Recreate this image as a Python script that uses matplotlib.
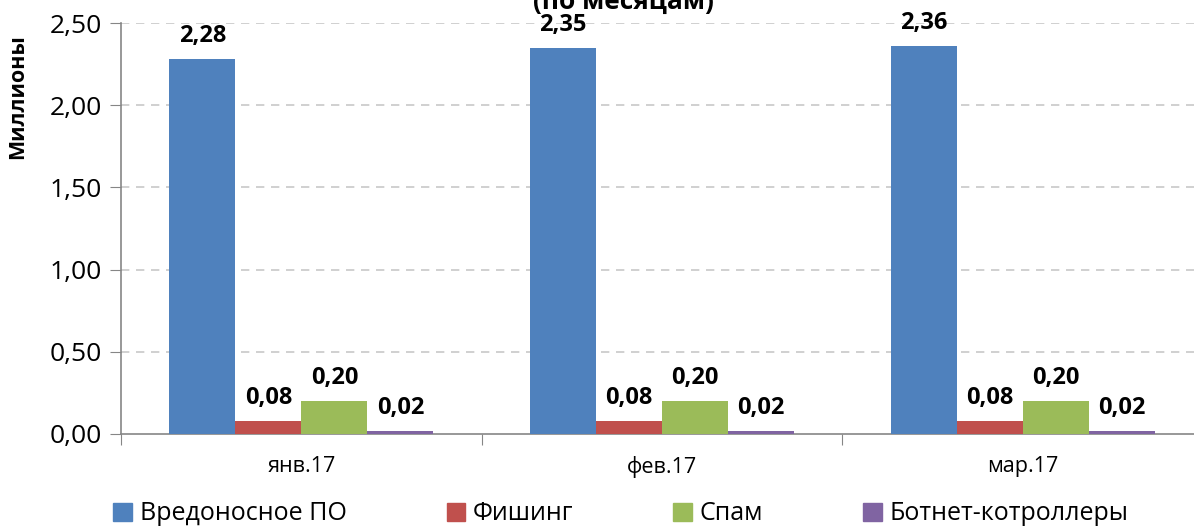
import numpy as np
import matplotlib
matplotlib.use('Agg')
import matplotlib.pyplot as plt
from matplotlib.patches import Patch

MONTHS = ["янв.17", "фев.17", "мар.17"]
SERIES = ["Вредоносное ПО", "Фишинг", "Спам", "Ботнет-котроллеры"]
MALWARE  = [2.28, 2.35, 2.36]
PHISHING = [0.08, 0.08, 0.08]
SPAM     = [0.20, 0.20, 0.20]
BOTNET   = [0.02, 0.02, 0.02]
COLORS = ["#4F81BD", "#C0504D", "#9BBB59", "#8064A2"]

plt.rcParams['font.family'] = ['Open Sans', 'DejaVu Sans']

W, H = 1194, 530
fig = plt.figure(figsize=(W / 100, H / 100), dpi=100)
ax = fig.add_axes([121 / W, (H - 434) / H, (1203 - 121) / W, (434 - 23) / H])

x = np.arange(len(MONTHS))
bw = 0.183
data = [MALWARE, PHISHING, SPAM, BOTNET]
for i, (vals, col) in enumerate(zip(data, COLORS)):
    pos = x + (i - 1.5) * bw
    bars = ax.bar(pos, vals, width=bw, color=col, zorder=3)
    for b, v in zip(bars, vals):
        ax.annotate(f"{v:.2f}".replace(".", ","),
                    (b.get_x() + b.get_width() / 2, v),
                    xytext=(0, 8), textcoords="offset points",
                    ha="center", va="bottom", fontsize=17, fontweight="bold")

ax.set_xlim(-0.5, 2.5)
ax.set_ylim(0, 2.5)
ax.set_yticks(np.arange(0, 2.51, 0.5))
ax.set_yticklabels([f"{t:.2f}".replace(".", ",") for t in np.arange(0, 2.51, 0.5)],
                   fontsize=19)
for t in np.arange(0.5, 2.51, 0.5):
    ax.axhline(t, color="#c8c8c8", lw=1.2, ls=(0, (5, 4)), zorder=1)

# group separators as ticks, labels in the middle
ax.set_xticks([-0.5, 0.5, 1.5, 2.5])
ax.set_xticklabels([])
ax.set_xticks(x, minor=True)
ax.set_xticklabels(MONTHS, minor=True, fontsize=15.5)
ax.tick_params(axis="x", which="major", length=8, color="#868686", direction="out")
ax.tick_params(axis="x", which="minor", length=0, pad=16)
ax.tick_params(axis="y", length=8, color="#868686", pad=6)

for s in ["top", "right"]:
    ax.spines[s].set_visible(False)
for s in ["left", "bottom"]:
    ax.spines[s].set_color("#868686")
    ax.spines[s].set_linewidth(1.2)

fig.text(18 / W, 1 - 97 / H, "Миллионы", rotation=90, ha="center", va="center",
         fontsize=15.5, fontweight="bold")
fig.text(623 / W, 1 + 12 / H, "(по месяцам)", ha="center", va="top",
         fontsize=19, fontweight="bold")

handles = [Patch(color=c) for c in COLORS]
fig.legend(handles, SERIES, loc="center", bbox_to_anchor=(0.52, 1 - 514 / H),
           ncol=4, frameon=False, fontsize=18, handlelength=0.75,
           handleheight=0.75, handletextpad=0.3, columnspacing=4.0)

fig.savefig("out.png", dpi=100)
